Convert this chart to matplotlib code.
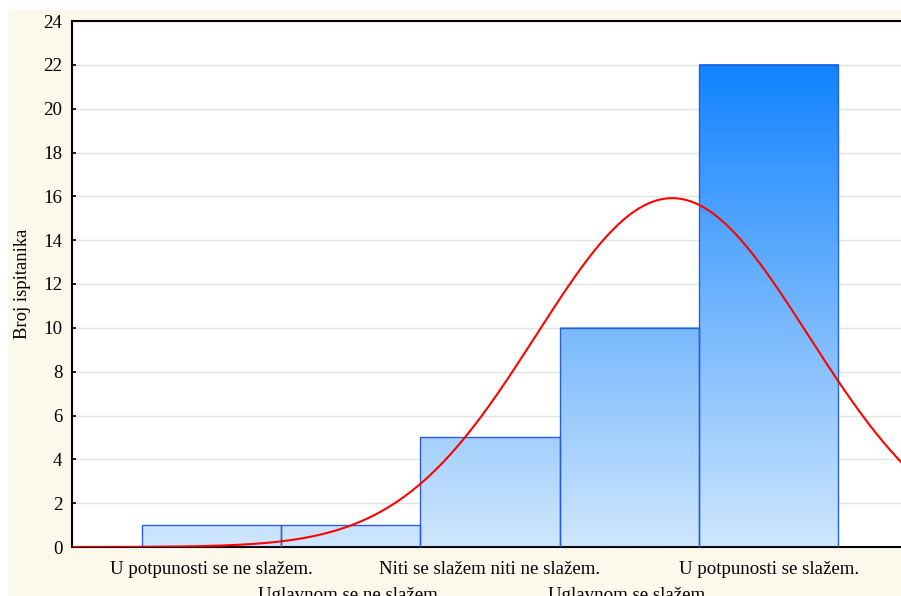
"Histogram of answers with fitted normal curve."
import numpy as np
import matplotlib.pyplot as plt
from matplotlib.colors import LinearSegmentedColormap
from matplotlib.patches import Rectangle

categories = ["U potpunosti se ne slažem.", "Uglavnom se ne slažem.",
              "Niti se slažem niti ne slažem.", "Uglavnom se slažem.",
              "U potpunosti se slažem."]
positions = [1, 2, 3, 4, 5]
counts = [1, 1, 5, 10, 22]

plt.rcParams['font.family'] = ['Liberation Serif', 'DejaVu Serif']

fig = plt.figure(figsize=(9.01, 5.96), dpi=100, facecolor='white')
fig.patches.append(Rectangle((8 / 901, 0), 1, 1 - 10 / 596, transform=fig.transFigure,
                             facecolor='#fdf8ec', edgecolor='none', zorder=-10))
ax = fig.add_axes([72 / 901, 1 - 547 / 596, 1 - 72 / 901, (547 - 21) / 596])
ax.set_facecolor('white')

cmap = LinearSegmentedColormap.from_list('bars', ['#cfe6fc', '#1283ff'])
for x, h in zip(positions, counts):
    grad = np.linspace(0, h, 200).reshape(-1, 1)
    ax.imshow(grad, extent=(x - 0.5, x + 0.5, 0, h), origin='lower', aspect='auto',
              cmap=cmap, vmin=0, vmax=22, zorder=2)
    ax.add_patch(Rectangle((x - 0.5, 0), 1, h, facecolor='none',
                           edgecolor='#2a5fd0', linewidth=1.0, zorder=3))

# fitted normal curve
vals = np.repeat(positions, counts)
mu, sd = vals.mean(), vals.std(ddof=1)
xs = np.linspace(0, 6, 400)
ys = len(vals) / (sd * np.sqrt(2 * np.pi)) * np.exp(-0.5 * ((xs - mu) / sd) ** 2)
ax.plot(xs, ys, color='#ff0000', lw=1.5, zorder=4, clip_on=True)

ax.set_xlim(0, 5.95)
ax.set_ylim(0, 24)
ax.set_yticks(range(0, 25, 2))
ax.set_xticks(positions)
ax.set_xticklabels([])
ax.grid(axis='y', color='#e3e3e3', lw=1.0, zorder=0)
ax.set_axisbelow(True)
ax.tick_params(direction='in', length=3, width=1.2, labelsize=13.6, pad=7, color='black')
ax.tick_params(axis='x', length=4)
for s in ['left', 'bottom', 'top']:
    ax.spines[s].set_linewidth(1.5)
ax.spines['right'].set_visible(False)

for i, (x, lab) in enumerate(zip(positions, categories)):
    off = -10 if i % 2 == 0 else -29
    ax.annotate(lab, xy=(x, 0), xycoords=('data', 'axes fraction'),
                xytext=(0, off), textcoords='offset points',
                ha='center', va='top', fontsize=13.6, annotation_clip=False)

ax.set_ylabel("Broj ispitanika", fontsize=13.4)
ax.yaxis.set_label_coords(-0.050, 0.5)

fig.savefig('out.png', dpi=100, facecolor=fig.get_facecolor())
